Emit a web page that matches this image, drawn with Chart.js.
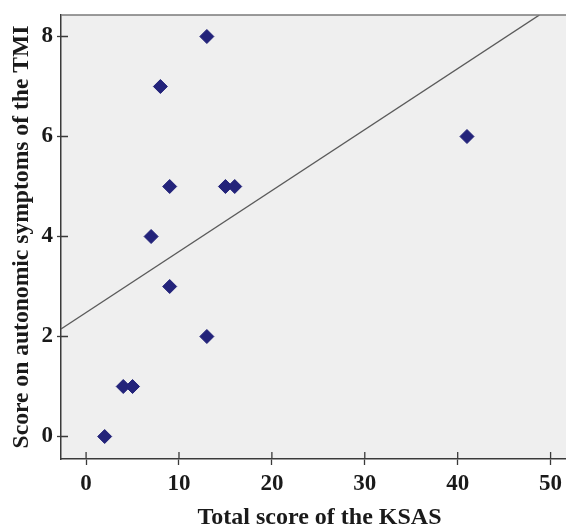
<!DOCTYPE html>
<html>
<head>
<meta charset="utf-8">
<script src="https://cdn.jsdelivr.net/npm/chart.js@4/dist/chart.umd.min.js"></script>
<style>
html,body{margin:0;padding:0;background:#fff;overflow:hidden;}
#wrap{position:relative;width:578px;height:527px;}
</style>
</head>
<body>
<div id="wrap"><canvas id="c" width="578" height="527"></canvas></div>
<script>
// Data
const ksasTotal = [2, 4, 5, 7, 8, 9, 9, 13, 13, 15, 16, 41];
const tmiAutonomic = [0, 1, 1, 4, 7, 5, 3, 8, 2, 5, 5, 6];
// Fit line: endpoints in data units
const fitX = [-2.7, 48.8];
const fitY = [2.15, 8.43];
const xTicks = [0, 10, 20, 30, 40, 50];
const yTicks = [0, 2, 4, 6, 8];

const points = ksasTotal.map((x, i) => ({x: x, y: tmiAutonomic[i]}));
const fitLine = fitX.map((x, i) => ({x: x, y: fitY[i]}));

const FONT = '"Liberation Serif", "Times New Roman", serif';
const AXIS = '#3a3a3a';

const framePlugin = {
  id: 'frame',
  beforeDraw(chart) {
    const {ctx, chartArea: a} = chart;
    ctx.save();
    ctx.fillStyle = '#efefef';
    ctx.fillRect(a.left, a.top, a.right - a.left, a.bottom - a.top);
    ctx.restore();
  },
  afterDraw(chart) {
    const {ctx, chartArea: a, scales} = chart;
    ctx.save();
    ctx.strokeStyle = '#7a7a7a';
    ctx.lineWidth = 1.5;
    ctx.beginPath();
    ctx.moveTo(a.left, a.top);
    ctx.lineTo(a.right, a.top);
    ctx.stroke();
    ctx.strokeStyle = AXIS;
    ctx.lineWidth = 1.3;
    ctx.beginPath();
    // inner parts of crossing ticks
    xTicks.forEach(v => {
      const px = scales.x.getPixelForValue(v);
      ctx.moveTo(px, a.bottom);
      ctx.lineTo(px, a.bottom - 7);
    });
    yTicks.forEach(v => {
      const py = scales.y.getPixelForValue(v);
      ctx.moveTo(a.left, py);
      ctx.lineTo(a.left + 7, py);
    });
    ctx.stroke();
    ctx.restore();
  }
};

new Chart(document.getElementById('c'), {
  type: 'scatter',
  data: {
    datasets: [
      {
        data: fitLine,
        showLine: true,
        borderColor: '#5a5a5a',
        borderWidth: 1.4,
        pointRadius: 0,
        fill: false,
        order: 2
      },
      {
        data: points,
        pointStyle: 'rectRot',
        pointRadius: 7,
        pointBackgroundColor: '#23237a',
        pointBorderColor: '#23237a',
        pointBorderWidth: 1,
        order: 1
      }
    ]
  },
  plugins: [framePlugin],
  options: {
    responsive: false,
    animation: false,
    layout: {autoPadding: false, padding: {top: 15, right: 0, left: 0, bottom: 0}},
    plugins: {legend: {display: false}, tooltip: {enabled: false}},
    scales: {
      x: {
        type: 'linear',
        min: -2.7,
        max: 52.95,
        afterBuildTicks(scale) { scale.ticks = xTicks.map(v => ({value: v})); },
        afterFit(scale) { scale.height = 68; scale.paddingLeft = 0; scale.paddingRight = 0; },
        grid: {drawOnChartArea: false, drawTicks: true, tickLength: 6, tickColor: AXIS, tickWidth: 1.3},
        border: {display: true, color: AXIS, width: 1.5},
        ticks: {
          font: {family: FONT, size: 23, weight: 'bold'},
          color: '#1a1a1a',
          padding: 5,
          maxRotation: 0
        },
        title: {
          display: true,
          text: 'Total score of the KSAS',
          font: {family: FONT, size: 24, weight: 'bold', lineHeight: 0.8},
          color: '#1a1a1a',
          padding: {top: 0, bottom: 0}
        }
      },
      y: {
        type: 'linear',
        min: -0.45,
        max: 8.43,
        afterBuildTicks(scale) { scale.ticks = yTicks.map(v => ({value: v})); },
        afterFit(scale) { scale.width = 61; scale.paddingTop = 0; scale.paddingBottom = 0; },
        grid: {drawOnChartArea: false, drawTicks: true, tickLength: 4, tickColor: AXIS, tickWidth: 1.3},
        border: {display: true, color: AXIS, width: 1.5},
        ticks: {
          font: {family: FONT, size: 23, weight: 'bold'},
          color: '#1a1a1a',
          padding: 4
        },
        title: {
          display: true,
          text: 'Score on autonomic symptoms of the TMI',
          font: {family: FONT, size: 23.6, weight: 'bold', lineHeight: 1.2},
          color: '#1a1a1a',
          padding: {top: 8, bottom: 0}
        }
      }
    }
  }
});
</script>
</body>
</html>
